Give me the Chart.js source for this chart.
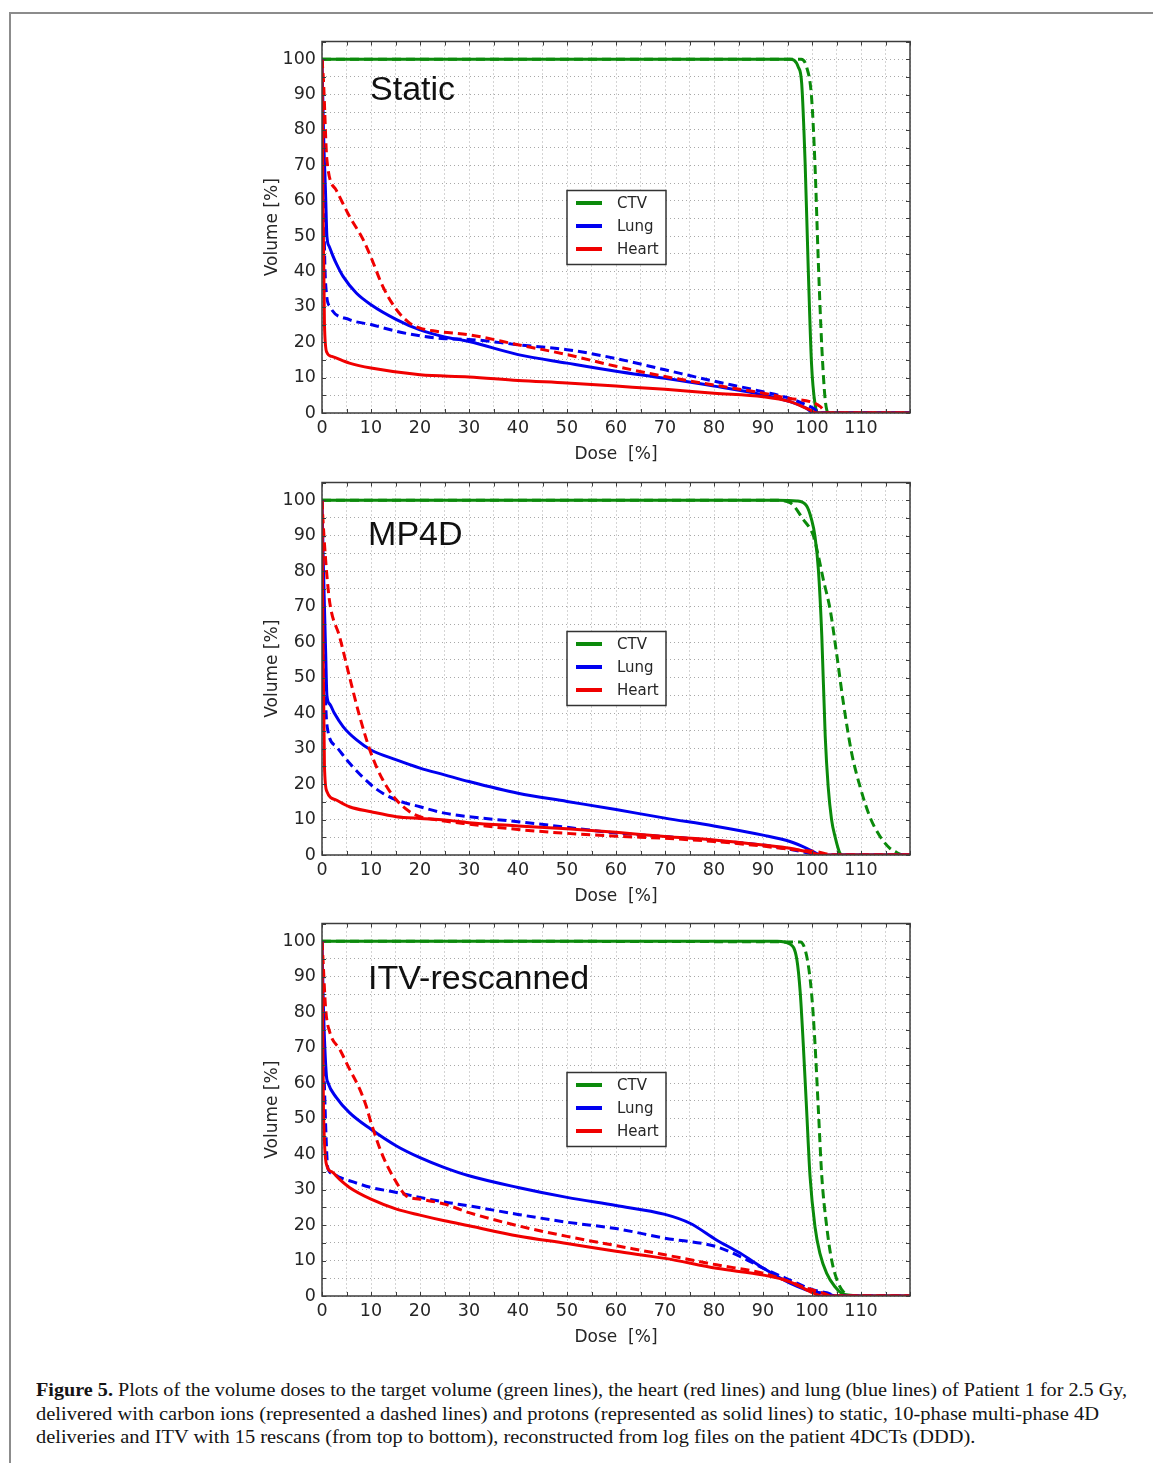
<!DOCTYPE html>
<html>
<head>
<meta charset="utf-8">
<title>Figure 5</title>
<script src="https://cdn.jsdelivr.net/npm/chart.js@4.4.1/dist/chart.umd.min.js"></script>
<style>
  html, body { margin: 0; padding: 0; background: #fff; }
  body { width: 1153px; height: 1463px; position: relative; overflow: hidden; }
  #frame { position: absolute; left: 9px; top: 12px; width: 1300px; height: 1600px;
           border-left: 2px solid #8c8c8c; border-top: 2px solid #8c8c8c; }
  canvas.panel { position: absolute; left: 250px; }
  .cap { position: absolute; left: 36px; white-space: nowrap; font-family: "Liberation Serif", serif;
         font-size: 19px; line-height: 23px; color: #141414; transform-origin: 0 50%; }
  .cap b { font-weight: bold; }
</style>
</head>
<body>
<div id="frame"></div>
<canvas class="panel" id="p0" width="680" height="446" style="top:25px"></canvas>
<canvas class="panel" id="p1" width="680" height="447" style="top:466px"></canvas>
<canvas class="panel" id="p2" width="680" height="447" style="top:907px"></canvas>
<div class="cap" id="c0" style="top:1378px"><b>Figure 5.</b> Plots of the volume doses to the target volume (green lines), the heart (red lines) and lung (blue lines) of Patient 1 for 2.5 Gy,</div>
<div class="cap" id="c1" style="top:1402px">delivered with carbon ions (represented a dashed lines) and protons (represented as solid lines) to static, 10-phase multi-phase 4D</div>
<div class="cap" id="c2" style="top:1425px">deliveries and ITV with 15 rescans (from top to bottom), reconstructed from log files on the patient 4DCTs (DDD).</div>
<script>
// ---- data (dose %, volume %) ----
const panelTitles = ['Static', 'MP4D', 'ITV-rescanned'];
const organs = ['CTV', 'Lung', 'Heart'];
const organColors = ['#0b8a0b', '#0000f0', '#f00000'];
const doseTickLabels = [0, 10, 20, 30, 40, 50, 60, 70, 80, 90, 100, 110];
const volumeTickLabels = [0, 10, 20, 30, 40, 50, 60, 70, 80, 90, 100];

// Static
const staticCtvProton = [[0,100],[95.5,100],[97.2,97.8],[97.9,93.1],[98.6,70.5],[99.2,42.3],[99.9,14],[100.6,2.7],[101.3,0],[120,0]];
const staticCtvCarbon = [[0,100],[97.8,100],[98.9,97.8],[99.9,89.4],[100.6,70.5],[101.3,42.3],[102,18.7],[102.7,3.7],[103.4,0],[120,0]];
const staticLungProton = [[0,100],[0.3,80],[0.75,61],[1,50],[1.5,47],[2.2,44.5],[3,42],[4.3,38.6],[7,33.9],[10,30.6],[15.2,26.4],[20,23.5],[25,21.5],[30,20.2],[40,16.5],[50,14.1],[60,11.8],[70,9.8],[80,7.6],[90,5.1],[95.5,3.2],[98.9,1.3],[100.3,0],[120,0]];
const staticLungCarbon = [[0,100],[0.3,70.6],[0.5,47],[0.9,33.9],[1.6,30.1],[5.6,26.4],[10,25],[15.2,23.1],[20,21.8],[25,21],[30,20.8],[40,19.3],[50,17.9],[60,15.4],[70,12.2],[80,9],[90,6],[95.5,4.1],[100.3,1.3],[101.7,0],[120,0]];
const staticHeartProton = [[0,100],[0.2,60],[0.5,25],[1,17.1],[2,16],[5.6,14.1],[10,12.7],[20,10.8],[30,10.2],[40,9.2],[50,8.5],[60,7.6],[70,6.7],[80,5.6],[90,4.6],[95.5,3.2],[99.6,0.85],[101,0],[120,0]];
const staticHeartCarbon = [[0,100],[0.3,94],[1,71.6],[2.9,63],[5.6,55.6],[8.4,49],[10,44],[12.4,35.8],[15.2,29.2],[17.9,25.4],[20,24],[23.3,23.1],[30,22.1],[40,19.3],[50,16.5],[60,13.2],[70,10.3],[80,7.9],[90,5.6],[95.5,4.1],[99.6,3.2],[101.7,1.8],[103,0],[120,0]];

// MP4D
const mp4dCtvProton = [[0,100],[92.9,100],[96.9,99.8],[98.9,98.4],[99.9,94.6],[100.6,89.9],[101.3,80.5],[102,61.7],[102.7,33.4],[103.3,19.3],[104,9.9],[104.7,5.2],[105.7,0.5],[106.3,0],[120,0]];
const mp4dCtvCarbon = [[0,100],[92.2,100],[95.5,99.3],[98.2,94.6],[100.3,89.9],[101.3,84.3],[102.3,77.7],[103.7,69.2],[105,57],[106.4,42.9],[108.1,28.7],[109.8,19.3],[111.8,10.8],[113.9,5.2],[115.9,1.9],[117.6,0.5],[118.5,0],[120,0]];
const mp4dLungProton = [[0,100],[0.3,80.4],[0.75,57],[1,45],[1.6,42.5],[2.5,40],[4.3,36.2],[7,32.5],[10,29.6],[15.2,26.8],[20,24.5],[25,22.6],[30,20.7],[40,17.4],[50,15.1],[60,12.8],[70,10.4],[80,8.2],[90,5.6],[95.5,3.8],[98.9,1.9],[101,0.4],[102,0],[120,0]];
const mp4dLungCarbon = [[0,100],[0.3,71],[0.75,42.8],[1.2,35],[2.9,30.6],[5.6,25.9],[10,19.8],[12.4,17.4],[15.2,15.5],[20,13.6],[25,11.8],[30,10.8],[40,9.4],[50,7.8],[60,6.2],[70,5.2],[80,4.1],[90,2.8],[95.5,1.6],[99.5,0.5],[101,0],[120,0]];
const mp4dHeartProton = [[0,100],[0.2,60],[0.5,25],[1,17.9],[2.9,15.5],[5.6,13.6],[10,12.2],[15.2,10.8],[20,10.3],[25,9.9],[30,9.1],[40,8.2],[50,7.4],[60,6.4],[70,5.2],[80,4.2],[90,2.8],[95.5,1.9],[100.3,0.5],[101.7,0],[120,0]];
const mp4dHeartCarbon = [[0,100],[0.2,94.5],[0.9,80.4],[1.6,71],[3.6,61.5],[5.6,50.3],[7.7,39],[10,28.7],[12.4,21.2],[15.2,15.5],[17.9,12.2],[20,10.8],[23.3,9.9],[30,8.7],[40,7.2],[50,6.1],[60,5.3],[70,4.7],[80,3.8],[90,2.5],[95.5,1.6],[101,0.9],[103,0.3],[104,0],[120,0]];

// ITV-rescanned
const itvCtvProton = [[0,100],[92.9,100],[95.5,99.2],[96.9,94.9],[97.6,85.5],[98.2,71.4],[98.9,52.5],[99.6,33.7],[100.6,19.6],[101.6,12.1],[103,6.4],[104.7,2.6],[106.1,0.7],[107.8,0.2],[110,0],[120,0]];
const itvCtvCarbon = [[0,100],[97.6,99.8],[98.9,95.9],[99.9,85.5],[100.6,71.4],[101.3,52.5],[102,33.7],[103,19.6],[104,10.2],[105.1,4.5],[106.4,1.2],[108.5,0],[120,0]];
const itvLungProton = [[0,100],[0.3,80.9],[0.9,62.1],[1.2,60.2],[2.9,56],[5.6,51.7],[10,47],[15.2,42.3],[20,39],[25,36.2],[30,33.9],[40,30.6],[50,27.8],[60,25.5],[70,23],[75.1,20.5],[80.5,15.8],[85.3,12.1],[90.1,7.8],[95.5,3.6],[98.9,1.7],[101.7,0.9],[103.7,0.3],[105,0],[120,0]];
const itvLungCarbon = [[0,100],[0.3,71.5],[0.75,48],[1.2,36],[2.2,34.5],[3.5,33.5],[5.6,32.5],[10,30.6],[15.2,29.2],[20,27.8],[25,26.5],[30,25.4],[40,23],[50,20.8],[60,19],[70,16.3],[80.5,13.9],[86.7,10.2],[90.1,7.8],[95.5,4.5],[100.3,1.7],[103,0.9],[105,0],[120,0]];
const itvHeartProton = [[0,100],[0.3,52.7],[1,36.7],[2,35],[3.5,33],[5.6,30.6],[10,27.3],[15.2,24.5],[20,22.8],[25,21.2],[30,19.8],[40,16.9],[50,14.8],[60,12.6],[70,10.6],[80.5,7.8],[90.1,5.9],[95.5,4],[98.2,2.2],[100.3,0.8],[102,0],[120,0]];
const itvHeartCarbon = [[0,100],[0.2,95],[0.75,80.9],[1.6,74.3],[3.6,69.6],[5.6,64],[7.7,58.3],[9,53.6],[10,48.9],[12.4,39.5],[15.2,32],[17.2,28.2],[20,27.3],[25,25.9],[30,23.5],[40,19.8],[50,16.8],[60,14.2],[70,11.6],[80.5,8.8],[90.1,6.4],[95.5,4],[98.9,2.2],[102.3,0.8],[104,0],[120,0]];

const panelCurves = [
  [staticCtvProton, staticCtvCarbon, staticLungProton, staticLungCarbon, staticHeartProton, staticHeartCarbon],
  [mp4dCtvProton, mp4dCtvCarbon, mp4dLungProton, mp4dLungCarbon, mp4dHeartProton, mp4dHeartCarbon],
  [itvCtvProton, itvCtvCarbon, itvLungProton, itvLungCarbon, itvHeartProton, itvHeartCarbon],
];

// ---- layout (not data) ----
const titleSpots = [{ x: 9.8, y: 88.4 }, { x: 9.4, y: 87.5 }, { x: 9.4, y: 86.6 }];
const TEXT = '#262626';
const tickFont = { family: 'DejaVu Sans', size: 17.5 };
const labelFont = { family: 'DejaVu Sans', size: 17 };

// frame, inward ticks on all sides, panel title
const framePlugin = {
  id: 'framePlugin',
  afterDatasetsDraw(chart, args, opts) {
    const { ctx, chartArea: a, scales: { x, y } } = chart;
    ctx.save();
    ctx.strokeStyle = '#3c3c3c';
    ctx.lineWidth = 1;
    ctx.beginPath();
    x.ticks.forEach(t => {
      const px = Math.round(x.getPixelForValue(t.value)) + 0.5;
      ctx.moveTo(px, a.bottom); ctx.lineTo(px, a.bottom - 4);
      ctx.moveTo(px, a.top); ctx.lineTo(px, a.top + 4);
    });
    y.ticks.forEach(t => {
      const py = Math.round(y.getPixelForValue(t.value)) + 0.5;
      ctx.moveTo(a.left, py); ctx.lineTo(a.left + 4, py);
      ctx.moveTo(a.right, py); ctx.lineTo(a.right - 4, py);
    });
    ctx.stroke();
    ctx.lineWidth = 1.5;
    ctx.strokeRect(a.left, a.top, a.right - a.left, a.bottom - a.top);

    ctx.fillStyle = '#111';
    ctx.font = '34px "Liberation Sans", Arial, sans-serif';
    ctx.textAlign = 'left';
    ctx.textBaseline = 'alphabetic';
    ctx.fillText(opts.title, x.getPixelForValue(opts.spot.x), y.getPixelForValue(opts.spot.y));
    ctx.restore();
  },
  afterDraw(chart) {
    const { ctx, chartArea: a } = chart;
    const left = a.left + 245, top = a.top + 149, w = 99, h = 74;
    ctx.save();
    ctx.fillStyle = '#fff';
    ctx.fillRect(left, top, w, h);
    ctx.strokeStyle = '#333';
    ctx.lineWidth = 1.5;
    ctx.strokeRect(left, top, w, h);
    ctx.font = '15px "DejaVu Sans"';
    ctx.textBaseline = 'middle';
    ctx.textAlign = 'left';
    organs.forEach((name, i) => {
      const cy = top + 12.5 + 23 * i;
      ctx.strokeStyle = organColors[i];
      ctx.lineWidth = 4;
      ctx.beginPath();
      ctx.moveTo(left + 9, cy); ctx.lineTo(left + 35, cy);
      ctx.stroke();
      ctx.fillStyle = TEXT;
      ctx.fillText(name, left + 50, cy + 1);
    });
    ctx.restore();
  }
};

function buildDatasets(curves) {
  return curves.map((pts, i) => {
    const organ = Math.floor(i / 2);
    const dashed = i % 2 === 1;
    return {
      label: organs[organ] + (dashed ? ' (carbon)' : ' (proton)'),
      data: pts.map(p => ({ x: p[0], y: p[1] })),
      borderColor: organColors[organ],
      borderWidth: 3,
      borderDash: dashed ? [9, 5] : [],
      pointRadius: 0,
      fill: false,
      cubicInterpolationMode: 'monotone',
      order: 10 - i
    };
  });
}

panelTitles.forEach((title, k) => {
  new Chart(document.getElementById('p' + k), {
    type: 'line',
    data: { datasets: buildDatasets(panelCurves[k]) },
    plugins: [framePlugin],
    options: {
      responsive: false,
      animation: false,
      layout: { padding: { top: 0, right: 20, left: 0, bottom: 0 } },
      plugins: {
        legend: { display: false },
        tooltip: { enabled: false },
        framePlugin: { title: title, spot: titleSpots[k] }
      },
      scales: {
        x: {
          type: 'linear', min: 0, max: 120,
          afterFit: s => { s.height = 58; },
          border: { display: false, dash: [1, 3] },
          grid: { color: '#a8a8a8', lineWidth: 1, drawTicks: false },
          ticks: {
            stepSize: 5, autoSkip: false, maxRotation: 0, padding: 5,
            color: TEXT, font: tickFont,
            callback: v => doseTickLabels.includes(v) ? String(v) : ''
          },
          title: { display: true, text: 'Dose  [%]', color: TEXT, font: labelFont, padding: { top: 0, bottom: 6 } }
        },
        y: {
          type: 'linear', min: 0, max: 105,
          afterFit: s => { s.width = 72; },
          border: { display: false, dash: [1, 3] },
          grid: { color: '#a8a8a8', lineWidth: 1, drawTicks: false },
          ticks: {
            stepSize: 5, autoSkip: false, padding: 6,
            color: TEXT, font: tickFont,
            callback: v => volumeTickLabels.includes(v) ? String(v) : ''
          },
          title: { display: true, text: 'Volume [%]', color: TEXT, font: labelFont, padding: { top: 12, bottom: 0 } }
        }
      }
    }
  });
});

// caption lines: squeeze to the widths of the printed lines
const captionWidths = [1091, 1063, 939];
captionWidths.forEach((w, i) => {
  const el = document.getElementById('c' + i);
  el.style.transform = 'scaleX(' + (w / el.scrollWidth) + ')';
});
</script>
</body>
</html>
